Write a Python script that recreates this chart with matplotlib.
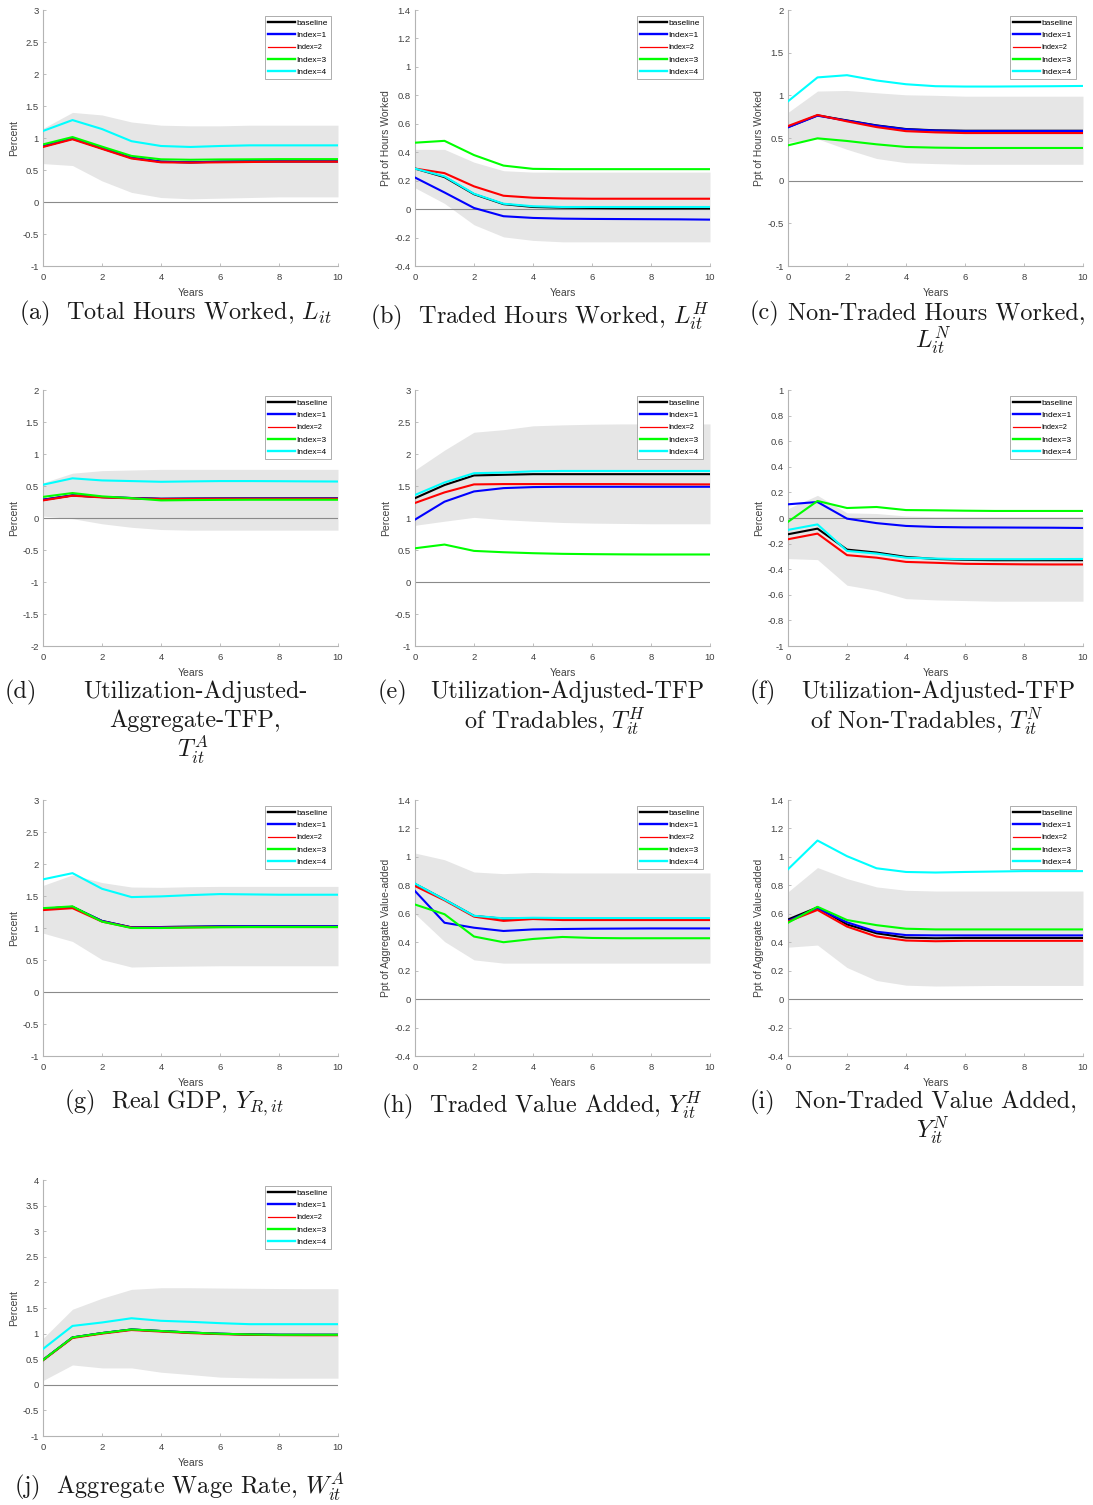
import matplotlib
matplotlib.use("Agg")

import matplotlib.pyplot as plt
import numpy as np

plt.rcParams['mathtext.fontset'] = 'cm'
plt.rcParams['axes.unicode_minus'] = False

years = list(range(11))
legend_labels = ['baseline', 'Index=1', 'Index=2', 'Index=3', 'Index=4']
line_colors = ['#000000', '#0000ff', '#ff0000', '#00ff00', '#00ffff']

# (a) total hours worked
tot_hours = {
    'hi':   [1.15, 1.40, 1.36, 1.25, 1.20, 1.19, 1.19, 1.20, 1.20, 1.20, 1.20],
    'lo':   [0.60, 0.57, 0.33, 0.15, 0.07, 0.05, 0.06, 0.07, 0.08, 0.08, 0.08],
    'base': [0.87, 0.99, 0.84, 0.69, 0.63, 0.62, 0.63, 0.635, 0.635, 0.635, 0.635],
    'i1':   [0.87, 0.99, 0.84, 0.69, 0.63, 0.62, 0.63, 0.635, 0.635, 0.635, 0.635],
    'i2':   [0.86, 0.98, 0.83, 0.68, 0.62, 0.615, 0.62, 0.625, 0.63, 0.63, 0.63],
    'i3':   [0.90, 1.015, 0.865, 0.72, 0.667, 0.66, 0.665, 0.667, 0.67, 0.67, 0.67],
    'i4':   [1.11, 1.28, 1.14, 0.95, 0.875, 0.86, 0.875, 0.885, 0.885, 0.885, 0.885],
}
# (b) traded hours worked
trd_hours = {
    'hi':   [0.42, 0.42, 0.33, 0.27, 0.26, 0.26, 0.26, 0.26, 0.26, 0.26, 0.26],
    'lo':   [0.15, 0.04, -0.11, -0.195, -0.22, -0.23, -0.23, -0.23, -0.23, -0.23, -0.23],
    'base': [0.285, 0.225, 0.105, 0.035, 0.015, 0.01, 0.008, 0.006, 0.005, 0.005, 0.005],
    'i1':   [0.222, 0.117, 0.008, -0.05, -0.062, -0.067, -0.069, -0.07, -0.071, -0.072, -0.074],
    'i2':   [0.285, 0.253, 0.16, 0.094, 0.08, 0.075, 0.073, 0.073, 0.073, 0.073, 0.073],
    'i3':   [0.467, 0.48, 0.38, 0.306, 0.283, 0.281, 0.281, 0.281, 0.281, 0.281, 0.281],
    'i4':   [0.285, 0.23, 0.108, 0.038, 0.02, 0.015, 0.015, 0.015, 0.015, 0.015, 0.015],
}
# (c) non-traded hours worked
ntr_hours = {
    'hi':   [0.80, 1.05, 1.057, 1.03, 1.006, 1.0, 0.99, 0.99, 0.99, 0.99, 0.99],
    'lo':   [0.45, 0.49, 0.367, 0.26, 0.21, 0.20, 0.192, 0.192, 0.192, 0.192, 0.192],
    'base': [0.628, 0.765, 0.706, 0.648, 0.605, 0.59, 0.585, 0.585, 0.585, 0.585, 0.585],
    'i1':   [0.625, 0.762, 0.703, 0.645, 0.602, 0.587, 0.582, 0.582, 0.582, 0.582, 0.582],
    'i2':   [0.64, 0.77, 0.695, 0.628, 0.58, 0.566, 0.558, 0.558, 0.558, 0.558, 0.558],
    'i3':   [0.414, 0.496, 0.465, 0.426, 0.395, 0.387, 0.383, 0.383, 0.383, 0.383, 0.383],
    'i4':   [0.93, 1.21, 1.236, 1.174, 1.13, 1.107, 1.103, 1.103, 1.105, 1.107, 1.11],
}
# (d) aggregate TFP
agg_tfp = {
    'hi':   [0.55, 0.70, 0.74, 0.75, 0.76, 0.76, 0.76, 0.76, 0.76, 0.76, 0.76],
    'lo':   [0.03, -0.01, -0.09, -0.145, -0.18, -0.19, -0.19, -0.19, -0.19, -0.19, -0.19],
    'base': [0.285, 0.353, 0.327, 0.312, 0.30, 0.303, 0.305, 0.306, 0.306, 0.306, 0.306],
    'i1':   [0.285, 0.353, 0.327, 0.312, 0.30, 0.303, 0.305, 0.306, 0.306, 0.306, 0.306],
    'i2':   [0.275, 0.348, 0.322, 0.306, 0.296, 0.298, 0.30, 0.30, 0.30, 0.30, 0.30],
    'i3':   [0.33, 0.39, 0.338, 0.31, 0.275, 0.28, 0.283, 0.285, 0.285, 0.285, 0.285],
    'i4':   [0.52, 0.62, 0.587, 0.577, 0.566, 0.572, 0.577, 0.577, 0.575, 0.572, 0.57],
}
# (e) TFP of tradables
trd_tfp = {
    'hi':   [1.75, 2.06, 2.34, 2.38, 2.44, 2.455, 2.465, 2.47, 2.47, 2.47, 2.47],
    'lo':   [0.886, 0.95, 1.01, 0.974, 0.95, 0.93, 0.92, 0.915, 0.91, 0.91, 0.91],
    'base': [1.31, 1.515, 1.665, 1.675, 1.685, 1.685, 1.685, 1.685, 1.685, 1.685, 1.685],
    'i1':   [0.975, 1.255, 1.415, 1.467, 1.483, 1.488, 1.488, 1.488, 1.488, 1.488, 1.488],
    'i2':   [1.235, 1.40, 1.525, 1.53, 1.53, 1.53, 1.53, 1.53, 1.527, 1.526, 1.525],
    'i3':   [0.527, 0.585, 0.486, 0.465, 0.45, 0.44, 0.435, 0.432, 0.43, 0.43, 0.43],
    'i4':   [1.36, 1.555, 1.70, 1.71, 1.73, 1.735, 1.735, 1.735, 1.735, 1.735, 1.735],
}
# (f) TFP of non-tradables
ntr_tfp = {
    'hi':   [0.073, 0.177, 0.04, 0.035, 0.016, 0.01, 0.01, 0.01, 0.01, 0.01, 0.01],
    'lo':   [-0.317, -0.325, -0.525, -0.565, -0.63, -0.64, -0.645, -0.65, -0.65, -0.65, -0.65],
    'base': [-0.127, -0.083, -0.247, -0.27, -0.304, -0.32, -0.327, -0.33, -0.33, -0.33, -0.33],
    'i1':   [0.107, 0.125, -0.005, -0.04, -0.062, -0.07, -0.073, -0.074, -0.075, -0.076, -0.078],
    'i2':   [-0.166, -0.122, -0.29, -0.31, -0.343, -0.35, -0.358, -0.36, -0.362, -0.363, -0.363],
    'i3':   [-0.03, 0.133, 0.078, 0.086, 0.062, 0.06, 0.057, 0.055, 0.055, 0.055, 0.055],
    'i4':   [-0.093, -0.05, -0.257, -0.278, -0.31, -0.317, -0.322, -0.322, -0.322, -0.321, -0.32],
}
# (g) real GDP
real_gdp = {
    'hi':   [1.665, 1.83, 1.71, 1.64, 1.635, 1.645, 1.65, 1.65, 1.65, 1.65, 1.65],
    'lo':   [0.92, 0.79, 0.506, 0.39, 0.40, 0.405, 0.41, 0.41, 0.41, 0.41, 0.41],
    'base': [1.30, 1.33, 1.11, 1.01, 1.015, 1.02, 1.025, 1.025, 1.025, 1.025, 1.025],
    'i1':   [1.30, 1.33, 1.11, 1.01, 1.015, 1.02, 1.025, 1.025, 1.025, 1.025, 1.025],
    'i2':   [1.28, 1.31, 1.10, 1.005, 1.005, 1.01, 1.015, 1.015, 1.015, 1.015, 1.015],
    'i3':   [1.31, 1.338, 1.10, 1.0, 1.0, 1.008, 1.012, 1.015, 1.015, 1.015, 1.015],
    'i4':   [1.76, 1.857, 1.613, 1.483, 1.494, 1.514, 1.53, 1.525, 1.52, 1.52, 1.52],
}
# (h) traded value added
trd_va = {
    'hi':   [1.027, 0.98, 0.894, 0.882, 0.89, 0.887, 0.887, 0.887, 0.887, 0.887, 0.887],
    'lo':   [0.60, 0.405, 0.276, 0.253, 0.253, 0.253, 0.253, 0.253, 0.253, 0.253, 0.253],
    'base': [0.81, 0.70, 0.585, 0.565, 0.568, 0.566, 0.566, 0.566, 0.566, 0.566, 0.566],
    'i1':   [0.76, 0.537, 0.502, 0.479, 0.49, 0.493, 0.495, 0.496, 0.497, 0.497, 0.497],
    'i2':   [0.795, 0.695, 0.58, 0.55, 0.563, 0.556, 0.556, 0.556, 0.556, 0.556, 0.556],
    'i3':   [0.665, 0.597, 0.44, 0.40, 0.423, 0.437, 0.43, 0.428, 0.428, 0.428, 0.428],
    'i4':   [0.812, 0.70, 0.586, 0.568, 0.572, 0.57, 0.57, 0.57, 0.57, 0.57, 0.57],
}
# (i) non-traded value added
ntr_va = {
    'hi':   [0.754, 0.925, 0.847, 0.789, 0.765, 0.76, 0.76, 0.76, 0.76, 0.76, 0.76],
    'lo':   [0.365, 0.38, 0.222, 0.131, 0.098, 0.092, 0.094, 0.096, 0.096, 0.096, 0.096],
    'base': [0.56, 0.645, 0.525, 0.463, 0.432, 0.428, 0.43, 0.43, 0.43, 0.43, 0.43],
    'i1':   [0.55, 0.637, 0.54, 0.474, 0.45, 0.448, 0.448, 0.448, 0.448, 0.448, 0.448],
    'i2':   [0.545, 0.627, 0.51, 0.44, 0.412, 0.407, 0.41, 0.41, 0.41, 0.41, 0.41],
    'i3':   [0.537, 0.649, 0.556, 0.52, 0.495, 0.49, 0.49, 0.49, 0.49, 0.49, 0.49],
    'i4':   [0.913, 1.115, 1.005, 0.92, 0.894, 0.89, 0.894, 0.897, 0.90, 0.90, 0.90],
}
# (j) aggregate wage rate
agg_wage = {
    'hi':   [0.906, 1.476, 1.69, 1.864, 1.896, 1.896, 1.89, 1.885, 1.88, 1.877, 1.877],
    'lo':   [0.084, 0.388, 0.33, 0.33, 0.246, 0.2, 0.15, 0.136, 0.13, 0.13, 0.13],
    'base': [0.485, 0.925, 1.01, 1.08, 1.05, 1.02, 0.997, 0.984, 0.977, 0.977, 0.977],
    'i1':   [0.485, 0.925, 1.01, 1.08, 1.05, 1.02, 0.997, 0.984, 0.977, 0.977, 0.977],
    'i2':   [0.48, 0.915, 1.0, 1.07, 1.04, 1.01, 0.99, 0.977, 0.97, 0.968, 0.968],
    'i3':   [0.485, 0.925, 1.01, 1.08, 1.05, 1.02, 0.997, 0.984, 0.977, 0.977, 0.977],
    'i4':   [0.70, 1.15, 1.217, 1.30, 1.25, 1.23, 1.204, 1.184, 1.184, 1.184, 1.184],
}

# panel: data, ylim, ystep, ylabel
panels = [
    (tot_hours, (-1, 3), 0.5, 'Percent'),
    (trd_hours, (-0.4, 1.4), 0.2, 'Ppt of Hours Worked'),
    (ntr_hours, (-1, 2), 0.5, 'Ppt of Hours Worked'),
    (agg_tfp, (-2, 2), 0.5, 'Percent'),
    (trd_tfp, (-1, 3), 0.5, 'Percent'),
    (ntr_tfp, (-1, 1), 0.2, 'Percent'),
    (real_gdp, (-1, 3), 0.5, 'Percent'),
    (trd_va, (-0.4, 1.4), 0.2, 'Ppt of Aggregate Value-added'),
    (ntr_va, (-0.4, 1.4), 0.2, 'Ppt of Aggregate Value-added'),
    (agg_wage, (-1, 4), 0.5, 'Percent'),
]

W, H = 1093, 1505
col_left = [43, 415, 788]
row_top = [10, 390, 800, 1180]
ax_w, ax_h = 295, 256

fig = plt.figure(figsize=(W / 100, H / 100), dpi=100)

def draw_panel(ax, d, ylim, ystep, ylabel):
    ax.fill_between(years, d['lo'], d['hi'], color='#e6e6e6', lw=0, zorder=1)
    ax.axhline(0, color='#8a8a8a', lw=0.8, zorder=2)
    handles = []
    for key, c, lab in zip(['base', 'i1', 'i2', 'i3', 'i4'], line_colors, legend_labels):
        h, = ax.plot(years, d[key], color=c, lw=1.5, label=lab, zorder=3)
        handles.append(h)
    ax.set_xlim(0, 10)
    ax.set_ylim(*ylim)
    ax.set_xticks(range(0, 11, 2))
    ax.set_xticklabels([str(v) for v in range(0, 11, 2)])
    yt = np.round(np.arange(ylim[0], ylim[1] + 1e-9, ystep), 2) + 0.0
    ax.set_yticks(yt)
    ax.set_yticklabels(['%g' % (0.0 if abs(v) < 1e-9 else v) for v in yt])
    for s in ['top', 'right']:
        ax.spines[s].set_visible(False)
    for s in ['left', 'bottom']:
        ax.spines[s].set_color('#b4b4b4')
        ax.spines[s].set_linewidth(0.8)
    ax.tick_params(direction='in', length=2.5, width=0.6, color='#b4b4b4',
                   labelsize=6.8, labelcolor='#404040', pad=3)
    ax.tick_params(axis='x', pad=5)
    for t in ax.get_xticklabels() + ax.get_yticklabels():
        t.set_family('Liberation Sans')
    ax.set_xlabel('Years', fontsize=7.5, color='#404040', family='Liberation Sans')
    ax.set_ylabel(ylabel, fontsize=7.5, color='#404040', family='Liberation Sans')
    ax.xaxis.set_label_coords(0.5, -0.085)
    ax.yaxis.set_label_coords(-0.08, 0.5)

    leg = ax.legend(handles=handles, loc='upper right', bbox_to_anchor=(0.976, 0.977),
                    borderaxespad=0, fancybox=False, framealpha=1, edgecolor='#a0a0a0',
                    handlelength=3.2, handletextpad=0.25, labelspacing=0.55,
                    borderpad=0.35, prop={'family': 'Liberation Sans', 'size': 6})
    leg.get_frame().set_linewidth(0.6)
    for i, ln in enumerate(leg.get_lines()):
        ln.set_linewidth(0.9 if i == 2 else 1.7)
    leg.get_texts()[2].set_fontsize(5.2)
    leg.set_zorder(5)

for k, (d, ylim, ystep, ylabel) in enumerate(panels):
    r, c = divmod(k, 3)
    ax = fig.add_axes([col_left[c] / W, 1 - (row_top[r] + ax_h) / H, ax_w / W, ax_h / H])
    draw_panel(ax, d, ylim, ystep, ylabel)

cap_font = dict(family='cmr10', fontsize=17.5, color='#1a1a1a')

def cap(x, y, s, ha='center'):
    fig.text(x / W, 1 - y / H, s, ha=ha, va='center', **cap_font)

cap(175, 313, r'(a)  Total Hours Worked, $L_{it}$')
cap(540, 316, r'(b)  Traded Hours Worked, $L_{it}^{H}$')
cap(750, 313, '(c)', ha='left')
cap(1085, 313, 'Non-Traded Hours Worked,', ha='right')
cap(933, 340, r'$L_{it}^{N}$')

cap(5, 692, '(d)', ha='left')
cap(195, 692, 'Utilization-Adjusted-')
cap(195, 721, 'Aggregate-TFP,')
cap(193, 750, r'$T_{it}^{A}$')
cap(378, 692, '(e)', ha='left')
cap(704, 692, 'Utilization-Adjusted-TFP', ha='right')
cap(555, 721, r'of Tradables, $T_{it}^{H}$')
cap(750, 692, '(f)', ha='left')
cap(1075, 692, 'Utilization-Adjusted-TFP', ha='right')
cap(927, 721, r'of Non-Tradables, $T_{it}^{N}$')

cap(174, 1103, r'(g)  Real GDP, $Y_{R,it}$')
cap(542, 1105, r'(h)  Traded Value Added, $Y_{it}^{H}$')
cap(750, 1102, '(i)', ha='left')
cap(1077, 1102, 'Non-Traded Value Added,', ha='right')
cap(933, 1130, r'$Y_{it}^{N}$')

cap(180, 1487, r'(j)  Aggregate Wage Rate, $W_{it}^{A}$')

fig.savefig('out.png', dpi=100)
